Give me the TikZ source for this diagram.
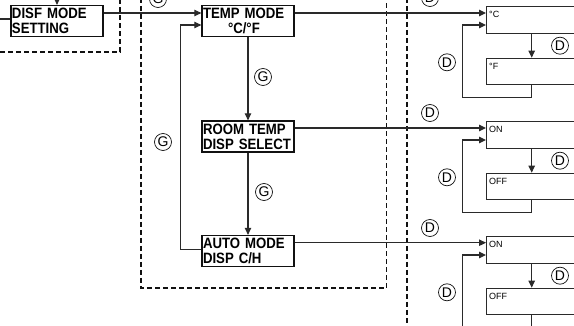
\documentclass[tikz,border=0pt]{standalone}
\usepackage{fontspec}
\setmainfont{Liberation Sans}
\newfontfamily\lcdfont[FakeStretch=0.88]{Liberation Sans}
\usetikzlibrary{arrows.meta,calc}
\definecolor{pnlInk}{HTML}{111111}
\definecolor{pnlLine}{HTML}{2A2A2A}

\begin{document}
\begin{tikzpicture}[x=1pt,y=-1pt,
  lcd/.style={draw=pnlInk, line width=1.3pt, fill=white, minimum width=92pt, minimum height=31pt, inner xsep=1pt, inner ysep=1pt, text width=90pt, align=left, font=\lcdfont\bfseries\fontsize{15}{15}\selectfont},
  opt/.style={draw=pnlLine, line width=1.1pt, fill=white, minimum width=100pt, minimum height=26.5pt, anchor=west},
  tag/.style={font=\fontsize{9}{9}\selectfont, inner sep=0pt, anchor=north west},
  circ/.style={circle, draw=pnlInk, line width=0.7pt, minimum size=17pt, inner sep=0pt, font=\fontsize{14}{14}\selectfont},
  link/.style={draw=pnlLine, line width=1.1pt},
  arr/.style={link, -{Triangle[length=7pt,width=6.5pt]}},
  grpframe/.style={draw=pnlInk, line width=1.5pt, dash pattern=on 5pt off 3pt},
]
\useasboundingbox (0,0) rectangle (574,326);
\clip (0,0) rectangle (574,326);
\def\gap{115}
% ---- dashed group frames ----
\draw[grpframe] (0,52) -| (120,-2);
\draw[grpframe] (141,-2) |- (386.7,288) -- (386.7,-2);
\draw[grpframe] (407,-2) -- (407,328);
% ---- mode screens ----
\node[lcd] (disf) at (57,21) {\mbox{DISF MODE}\\SETTING};
\node[lcd] (temp) at (248,21) {\mbox{TEMP MODE}\\\hspace*{25pt}°C/°F};
\node[lcd] (room) at (248,136.5) {\mbox{ROOM TEMP}\\\mbox{DISP SELECT}};
\node[lcd] (autodisp) at (248,251) {\mbox{AUTO MODE}\\\mbox{DISP C/H}};
% ---- G steps ----
\node[circ] (g0) at (158,-1) {G};
\node[circ] (g1) at (263,77) {G};
\node[circ] (g2) at (264,192) {G};
\node[circ] (g3) at (163,142) {G};
% ---- option boxes (one group per screen) ----
\coordinate (dn) at (531.7,0);
\foreach \i/\optA/\optB in {0/{°C}/{°F}, 1/ON/OFF, 2/ON/OFF}{
  \pgfmathsetmacro\gy{20+\gap*\i}
  \node[opt] (hi\i) at (486,\gy) {};
  \node[opt] (lo\i) at (486,\gy+51.5) {};
  \node[tag] (ht\i) at ([shift={(3pt,-5pt)}]hi\i.north west) {\optA};
  \node[tag] (lt\i) at ([shift={(3pt,-5pt)}]lo\i.north west) {\optB};
  \draw[arr] (hi\i.south -| dn) -- (lo\i.north -| dn);
  \draw[arr] (lo\i.south -| dn) -- ++(0,12) -| ([xshift=-23.3pt,yshift=-5pt]hi\i.west) -- ([yshift=-5pt]hi\i.west);
  \node[circ] (dt\i) at (430,\gy-22) {D};
  \node[circ] (dr\i) at (560,\gy+25.7) {D};
  \node[circ] (dl\i) at (447,\gy+42.3) {D};
}
% ---- connectors ----
\coordinate (feedL) at (-2,19);
\coordinate (feedT) at (57,-3);
\draw[link] (feedL) -- (feedL -| disf.west);
\draw[arr] (feedT) -- (disf.north);
\draw[arr] ([yshift=8pt]disf.east) -- ([yshift=8pt]temp.west);
\draw[arr] (temp.south) -- (room.north);
\draw[arr] (room.south) -- (autodisp.north);
\draw[arr] ([yshift=1.5pt]autodisp.west) -- ++(-20.7,0) |- ([yshift=-4pt]temp.west);
\draw[arr] ([yshift=8pt]temp.east) -- ([yshift=8pt]temp.east -| hi0.west);
\draw[arr] ([yshift=8.5pt]room.east) -- ([yshift=8.5pt]room.east -| hi1.west);
\draw[arr] ([yshift=8.3pt]autodisp.east) -- ([yshift=8.3pt]autodisp.east -| hi2.west);
\end{tikzpicture}
\end{document}
